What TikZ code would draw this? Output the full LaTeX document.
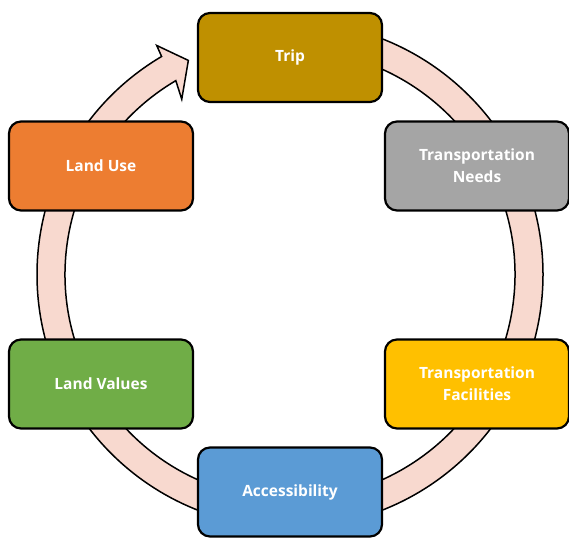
\documentclass[tikz,border=0pt]{standalone}
\usepackage{fontspec}
\setmainfont{Open Sans}
\usetikzlibrary{calc}
\definecolor{ringc}{HTML}{F8D9CF}
\definecolor{tripc}{HTML}{BF9000}
\definecolor{needc}{HTML}{A5A5A5}
\definecolor{facc}{HTML}{FFC000}
\definecolor{accc}{HTML}{5B9BD5}
\definecolor{valc}{HTML}{70AD47}
\definecolor{usec}{HTML}{ED7D31}
\begin{document}
\begin{tikzpicture}[x=1pt,y=1pt,
  cbox/.style={draw=black,line width=2.2pt,rounded corners=12pt,minimum width=184pt,minimum height=89pt,
    text=white,align=center,font=\fontsize{15.5}{22}\selectfont\bfseries,inner sep=2pt}]
\useasboundingbox (0,0) rectangle (569,537);
\coordinate (C) at (290,262.5);
\fill[ringc,draw=black,line width=1.5pt,line join=miter]
  ($(C)+(90:253)$) arc[start angle=90,end angle=-239.5,radius=253]
  -- ($(C)+(-239.8:265)$) -- ($(C)+(-244.6:237)$) -- ($(C)+(-238.3:206)$)
  -- ($(C)+(-239.5:225)$) arc[start angle=-239.5,end angle=90,radius=225] -- cycle;
\node[cbox,fill=tripc] (trip) at (290,479.5) {Trip};
\node[cbox,fill=needc] (need) at (477,371) {Transportation\\Needs};
\node[cbox,fill=facc] (fac) at (477,153) {Transportation\\Facilities};
\node[cbox,fill=accc] (acc) at (290,45) {Accessibility};
\node[cbox,fill=valc] (val) at (101,153) {Land Values};
\node[cbox,fill=usec] (use) at (101,371) {Land Use};
\end{tikzpicture}
\end{document}
